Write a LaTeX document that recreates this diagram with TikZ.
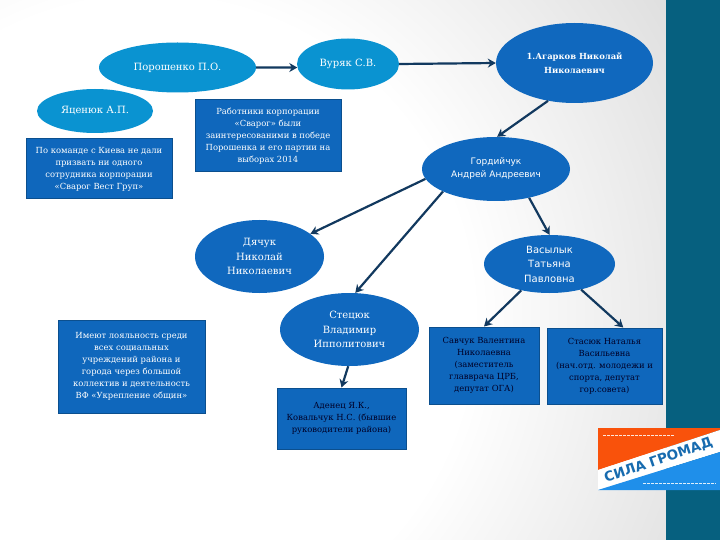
\documentclass[tikz,border=0pt]{standalone}
\usepackage{fontspec}
\setmainfont{DejaVu Serif}
\setsansfont{DejaVu Sans}
\usetikzlibrary{shapes.geometric, arrows.meta}
\definecolor{bandteal}{HTML}{06607F}
\definecolor{ovallight}{HTML}{0A93D1}
\definecolor{ovaldark}{HTML}{1068BE}
\definecolor{boxblue}{HTML}{0F67BC}
\definecolor{boxedge}{HTML}{0B4F8E}
\definecolor{linknavy}{HTML}{12395F}
\definecolor{logoorange}{HTML}{F9520B}
\definecolor{logoblue}{HTML}{1F8FEA}
\pgfdeclareradialshading{pageglow}{\pgfpoint{0bp}{0bp}}{color(0bp)=(white); color(13bp)=(white); color(25bp)=(black!13); color(50bp)=(black!13)}
\tikzset{
  person/.style={ellipse, inner sep=0pt, text=white, align=center, font=\fontsize{10}{14.5}\selectfont},
  lightoval/.style={person, fill=ovallight},
  darkoval/.style={person, fill=ovaldark},
  notebox/.style={rectangle, inner sep=0pt, fill=boxblue, draw=boxedge, line width=1pt, text=white, align=center, font=\fontsize{8.4}{12}\selectfont},
  darknote/.style={notebox, text=black!85!blue},
  link/.style={-{Stealth[length=8pt, width=9pt]}, draw=linknavy, line width=2.2pt}
}
\begin{document}
\begin{tikzpicture}[x=1pt, y=-1pt]
    \useasboundingbox (0, 0) rectangle (720, 540);

    % Page and side band
    \begin{scope}
        \clip (0, 0) rectangle (666, 540);
        \shade[shading=pageglow] (150, 320) circle (620pt);
    \end{scope}
    \fill[bandteal] (666, 0) rectangle (720, 540);

    % Top row
    \node[lightoval, minimum width=157pt, minimum height=50pt] (poroshenko) at (177.5, 67.5) {Порошенко П.О.};
    \node[lightoval, minimum width=102pt, minimum height=51pt] (vuryak) at (348, 64) {Вуряк С.В.};
    \node[darkoval, minimum width=157pt, minimum height=80pt, font=\bfseries\fontsize{8.4}{14}\selectfont] (agarkov) at (574.5, 63) {1.Агарков Николай\\Николаевич};
    \node[lightoval, minimum width=116pt, minimum height=44pt] (yatsenyuk) at (95, 111) {Яценюк А.П.};

    % Notes on the left
    \node[notebox, minimum width=146pt, minimum height=60pt] (kievnote) at (99, 169) {По команде с Киева не дали\\призвать ни одного\\сотрудника корпорации\\«Сварог Вест Груп»};
    \node[notebox, minimum width=146pt, minimum height=72pt] (workers) at (268, 136) {Работники корпорации\\«Сварог» были\\заинтересованими в победе\\Порошенка и его партии на\\выборах 2014};
    \node[notebox, minimum width=147pt, minimum height=93pt] (loyalty) at (131.5, 366.5) {Имеют лояльность среди\\всех социальных\\учреждений района и\\города через большой\\коллектив и деятельность\\ВФ «Укрепление общин»};

    % Middle ovals
    \node[darkoval, minimum width=148pt, minimum height=64pt, font=\sffamily\fontsize{9}{13}\selectfont] (gordiychuk) at (496, 169) {Гордийчук\\Андрей Андреевич};
    \node[darkoval, minimum width=129pt, minimum height=73pt] (dyachuk) at (259.5, 256.5) {Дячук\\Николай\\Николаевич};
    \node[darkoval, minimum width=131pt, minimum height=58pt, font=\sffamily\fontsize{10}{14.5}\selectfont] (vasylyk) at (549.5, 264) {Васылык\\Татьяна\\Павловна};
    \node[darkoval, minimum width=139pt, minimum height=73pt] (stetsyuk) at (349.5, 329.5) {Стецюк\\Владимир\\Ипполитович};

    % Bottom notes
    \node[darknote, minimum width=129pt, minimum height=61pt] (adenets) at (341.5, 418.5) {Аденец Я.К.,\\Ковальчук Н.С. (бывшие\\руководители района)};
    \node[darknote, minimum width=110pt, minimum height=77pt] (savchuk) at (484, 365.5) {Савчук Валентина\\Николаевна\\(заместитель\\главврача ЦРБ,\\депутат ОГА)};
    \node[darknote, minimum width=115pt, minimum height=76pt] (stasyuk) at (604.5, 366) {Стасюк Наталья\\Васильевна\\(нач.отд. молодежи и\\спорта, депутат\\гор.совета)};

    % Links
    \draw[link] (poroshenko.east) -- (vuryak.184);
    \draw[link] (vuryak.east) -- (agarkov.west);
    \draw[link] (agarkov.235) -- (gordiychuk.88);
    \draw[link] (gordiychuk.188) -- (dyachuk.24);
    \draw[link] (gordiychuk.203) -- (stetsyuk.81);
    \draw[link] (gordiychuk.319) -- (vasylyk.north);
    \draw[link] (vasylyk.223) -- (savchuk.north);
    \draw[link] (vasylyk.321) -- (stasyuk.64);
    \draw[link] (stetsyuk.268) -- (adenets.north);

    % Party logo
    \fill[logoorange] (598, 428) -- (720, 428) -- (720, 430) -- (598, 470) -- cycle;
    \fill[white] (598, 470) -- (720, 430) -- (720, 452) -- (598, 490) -- cycle;
    \fill[logoblue] (598, 490) -- (720, 452) -- (720, 490) -- cycle;
    \node[rotate=19, text=logoblue!75!black, font=\sffamily\bfseries\fontsize{13.5}{14}\selectfont, inner sep=0pt] (logoname) at (658.5, 460.5) {СИЛА ГРОМАД};
    \draw[white!85!logoorange, line width=1pt, dash pattern=on 3pt off 1pt] (603, 435) -- (674, 435);
    \draw[white!85!logoblue, line width=1pt, dash pattern=on 3pt off 1pt] (643, 483) -- (716, 483);
\end{tikzpicture}
\end{document}
